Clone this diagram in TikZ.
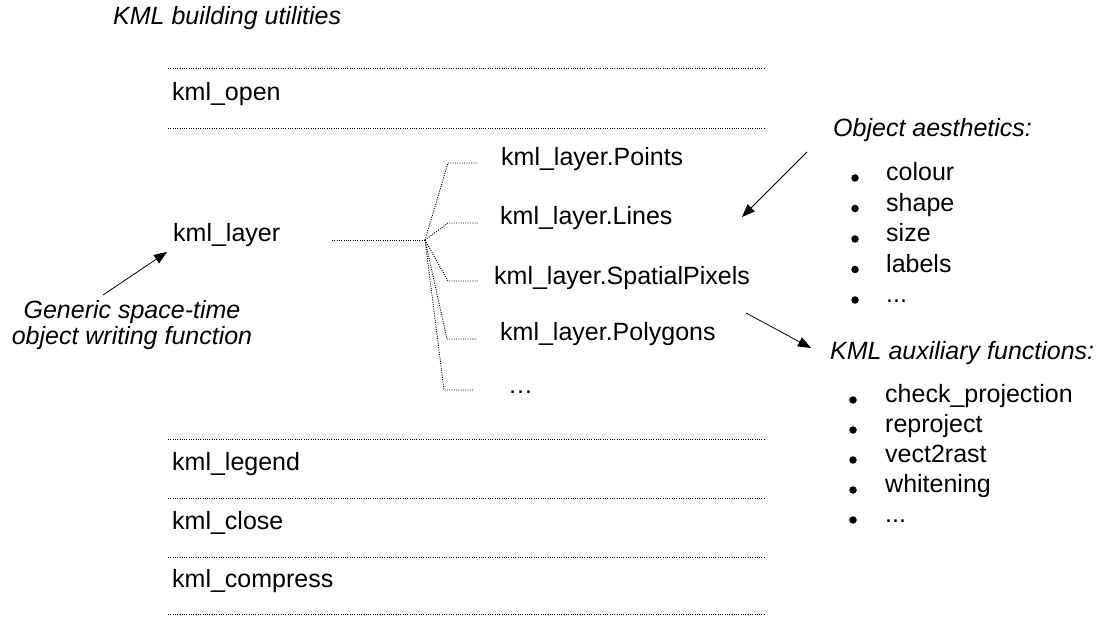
\documentclass[tikz,border=0pt]{standalone}
\usepackage{fontspec}
\setmainfont{Liberation Sans}
\usetikzlibrary{arrows.meta}
\newcommand{\mydots}{...}
\begin{document}
\begin{tikzpicture}[x=1pt,y=-1pt,
  txt/.style={inner sep=0pt,anchor=west,text height=0.72em,text depth=0.21em,font=\fontsize{25}{26}\selectfont},
  itxt/.style={txt,font=\fontsize{25}{26}\selectfont\itshape},
  gtxt/.style={inner sep=0pt,align=center,font=\fontsize{25}{26}\selectfont\itshape},
  dline/.style={line width=0.9pt,dash pattern=on 1pt off 1.3pt},
  arr/.style={line width=0.8pt,-{Triangle[length=13pt,width=10pt]}},
  bul/.style={circle,fill=black,inner sep=0pt,minimum size=7.5pt}]
\useasboundingbox (0,0) rectangle (1099,617);
% title
\node[itxt] (title) at (113,22) {KML building utilities};
% separator lines
\foreach \n/\y in {l1/68,l2/128,l3/439,l4/498,l5/557,l6/614}{
  \coordinate (\n a) at (168,\y);
  \coordinate (\n b) at (765,\y);
  \draw[dline] (\n a) -- (\n b);
}
\node[txt] (open) at (172,98) {kml\_open};
\node[txt] (legend) at (172,468) {kml\_legend};
\node[txt] (close) at (172,527) {kml\_close};
\node[txt] (compress) at (172,585) {kml\_compress};
% kml_layer and fan
\node[txt] (layer) at (173,239) {kml\_layer};
\coordinate (fs) at (332,240);
\coordinate (fan) at (425,240);
\draw[dline] (fs) -- (fan);
\node[txt] (pts) at (501,163) {kml\_layer.Points};
\node[txt] (lns) at (500,222) {kml\_layer.Lines};
\node[txt] (spx) at (494,282) {kml\_layer.SpatialPixels};
\node[txt] (pol) at (500,338) {kml\_layer.Polygons};
\node[txt] (dts) at (508,391) {\ldots};
\foreach \n/\x/\y in {pts/448/163,lns/448/223,spx/448/281,pol/447/339,dts/444/390}{
  \coordinate (\n c) at (\x,\y);
  \coordinate (\n e) at (\x+30,\y);
  \draw[dline] (fan) -- (\n c) -- (\n e);
}
% generic label
\node[gtxt] (gen) at (132,325) {Generic space-time\\object writing function};
\coordinate (ga) at (103,295);
\coordinate (gb) at (167,252);
\draw[arr] (ga) -- (gb);
% object aesthetics
\node[itxt] (aes) at (833,134) {Object aesthetics:};
\foreach \n/\t/\y in {c1/colour/178,c2/shape/208.5,c3/size/239,c4/labels/269.5,c5/\mydots/300}{
  \node[bul] (\n b) at (855,\y) {};
  \node[txt] (\n) at (886,\y) {\t};
}
\coordinate (aa) at (807,152);
\coordinate (ab) at (742,217);
\draw[arr] (aa) -- (ab);
% auxiliary functions
\node[itxt] (aux) at (830,357) {KML auxiliary functions:};
\foreach \n/\t/\y in {f1/check\_projection/400,f2/reproject/430,f3/vect2rast/460,f4/whitening/490,f5/\mydots/520}{
  \node[bul] (\n b) at (853,\y) {};
  \node[txt] (\n) at (885,\y) {\t};
}
\coordinate (xa) at (746,313);
\coordinate (xb) at (811,348);
\draw[arr] (xa) -- (xb);
\end{tikzpicture}
\end{document}
